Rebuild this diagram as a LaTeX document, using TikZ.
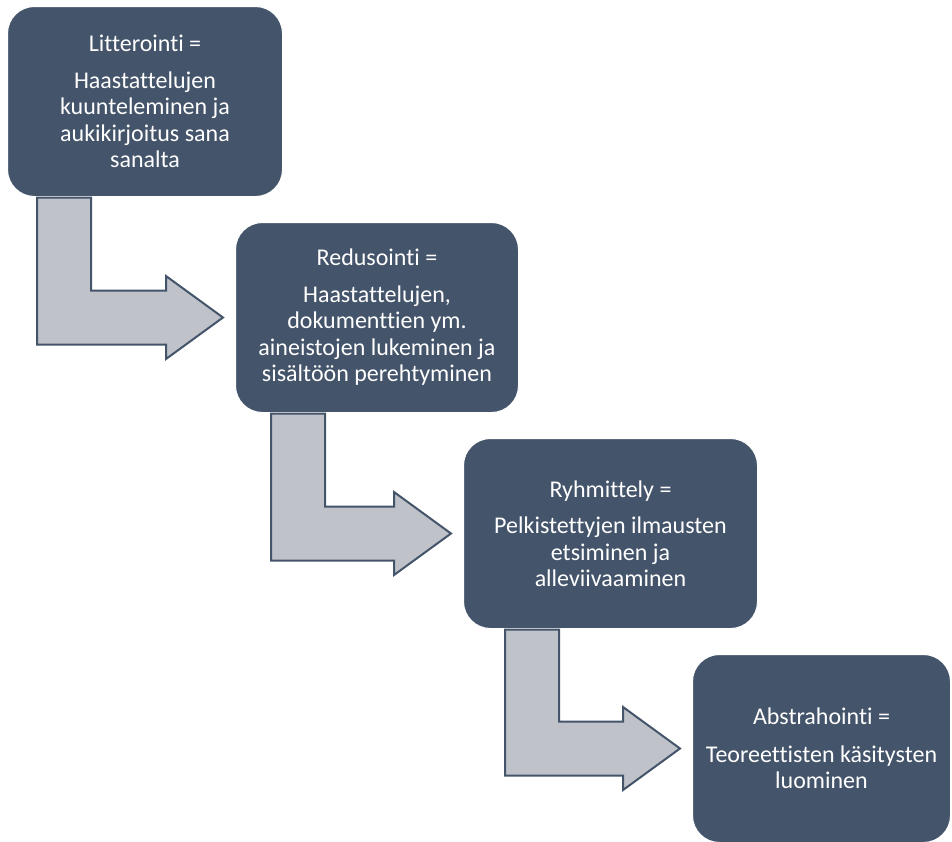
\documentclass[tikz,border=0pt]{standalone}
\usepackage{fontspec}
\setmainfont[Ligatures=NoCommon]{Carlito}
\usetikzlibrary{calc}
\definecolor{slate}{HTML}{44546A}
\definecolor{arrowgray}{HTML}{BFC3C9}

\begin{document}
\begin{tikzpicture}[x=1pt,y=1pt,
  phase node/.style={rectangle,rounded corners=27pt,draw=white,line width=1pt,
    fill=slate,text=white,font=\fontsize{24}{26.5}\selectfont,align=center,
    anchor=north west,inner sep=0pt},
  bent arrow/.style={fill=arrowgray,draw=slate,line width=2pt,line join=miter}]

  \useasboundingbox (0,0) rectangle (952,-841);

  \node[phase node,minimum width=275pt,minimum height=190pt] (L) at (7,-6)
    {Litterointi =\\[10pt] Haastattelujen\\ kuunteleminen ja\\ aukikirjoitus sana\\ sanalta};
  \node[phase node,minimum width=283pt,minimum height=190pt] (R) at (235,-222)
    {Redusointi =\\[10pt] Haastattelujen,\\ dokumenttien ym.\\ aineistojen lukeminen ja\\ sisältöön perehtyminen};
  \node[phase node,minimum width=294pt,minimum height=190pt] (Y) at (463,-438)
    {Ryhmittely =\\[10pt] Pelkistettyjen ilmausten\\ etsiminen ja\\ alleviivaaminen};
  \node[phase node,minimum width=258pt,minimum height=188pt] (A) at (692,-654)
    {Abstrahointi =\\[11pt] Teoreettisten käsitysten\\ luominen};

  % bent block arrows between the phases
  \foreach \src/\dst/\off in {L/R/30,R/Y/36,Y/A/42}
    \draw[bent arrow]
      let \p1=(\src.south west), \p2=(\dst.west) in
      ({\x1+\off pt},{\y1-0.5pt}) -- ({\x1+\off pt+54pt},{\y1-0.5pt})
      -- ({\x1+\off pt+54pt},{\y2+27pt}) -- ({\x2-69pt},{\y2+27pt})
      -- ({\x2-69pt},{\y2+41.5pt}) -- ({\x2-12pt},\y2)
      -- ({\x2-69pt},{\y2-41.5pt}) -- ({\x2-69pt},{\y2-27pt})
      -- ({\x1+\off pt},{\y2-27pt}) -- cycle;

\end{tikzpicture}
\end{document}
